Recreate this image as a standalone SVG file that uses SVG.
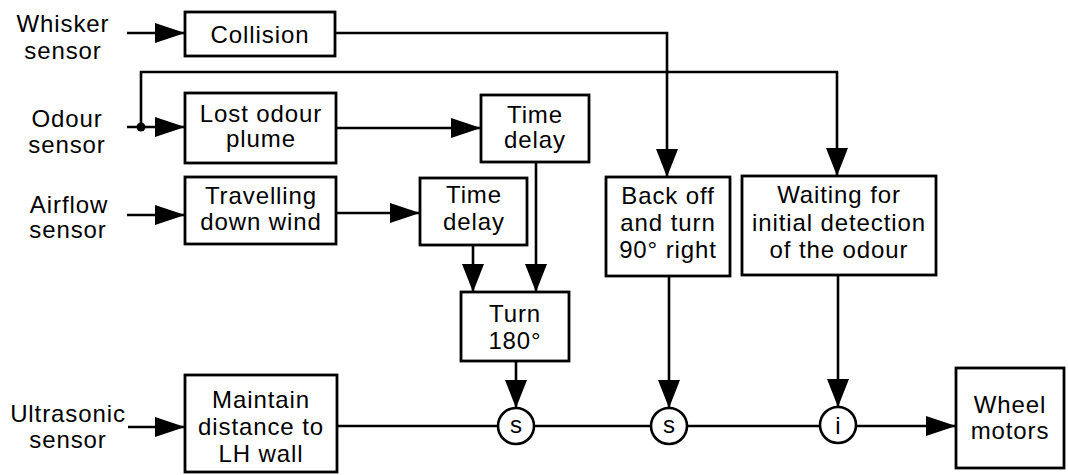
<svg xmlns="http://www.w3.org/2000/svg" width="1068" height="475" viewBox="0 0 1068 475">
<style>
  .box { fill: #fff; stroke: #000; stroke-width: 2.8; }
  .ln { fill: none; stroke: #000; stroke-width: 2.6; }
  .arr { marker-end: url(#ah); }
  .dn { marker-end: url(#ahv); }
  text { font-family: "Liberation Sans", Arial, sans-serif; font-size: 24px; letter-spacing: 0.9px; fill: #000; text-anchor: middle; }
  .sum { fill: #fff; stroke: #000; stroke-width: 2.6; }
  .st { font-size: 24px; letter-spacing: 0; }
</style>
<defs>
  <marker id="ah" viewBox="0 0 30 20" refX="30" refY="10" markerWidth="30" markerHeight="20" markerUnits="userSpaceOnUse" orient="auto">
    <path d="M0,0 L30,10 L0,20 z" fill="#000"/>
  </marker>
  <marker id="ahv" viewBox="0 0 28 22" refX="28" refY="11" markerWidth="28" markerHeight="22" markerUnits="userSpaceOnUse" orient="auto">
    <path d="M0,0 L28,11 L0,22 z" fill="#000"/>
  </marker>
</defs>

<g id="connectors">
  <path class="ln arr" d="M127,33 H185"/>
  <path class="ln arr" d="M127,127 H185"/>
  <path class="ln arr" d="M127,215 H185"/>
  <path class="ln arr" d="M128,427 H185"/>
  <path class="ln dn" d="M335,33 H667 V177"/>
  <path class="ln dn" d="M141,127 V72 H837 V176"/>
  <circle cx="141" cy="127" r="4.5" fill="#000"/>
  <path class="ln arr" d="M336,128 H481"/>
  <path class="ln arr" d="M336,213 H420"/>
  <path class="ln dn" d="M536,162 V292"/>
  <path class="ln dn" d="M473,245 V292"/>
  <path class="ln dn" d="M516,361 V408"/>
  <path class="ln dn" d="M669,276 V408"/>
  <path class="ln dn" d="M838,275 V407"/>
  <path class="ln" d="M337,426 H498"/>
  <path class="ln" d="M534,426 H651"/>
  <path class="ln" d="M687,426 H820"/>
  <path class="ln arr" d="M856,426 H956"/>
</g>

<g id="sensor-whisker"><text x="63" y="32">Whisker</text><text x="63" y="59">sensor</text></g>
<g id="sensor-odour"><text x="67" y="127">Odour</text><text x="67" y="153">sensor</text></g>
<g id="sensor-airflow"><text x="69" y="213">Airflow</text><text x="68" y="238">sensor</text></g>
<g id="sensor-ultrasonic"><text x="68" y="422">Ultrasonic</text><text x="68" y="448">sensor</text></g>

<g id="collision"><rect class="box" x="185" y="12" width="150" height="44"/><text x="260" y="43">Collision</text></g>
<g id="lost-odour"><rect class="box" x="185" y="93" width="151" height="70"/><text x="261" y="122">Lost odour</text><text x="261" y="147">plume</text></g>
<g id="travelling"><rect class="box" x="185" y="177" width="151" height="67"/><text x="261" y="204">Travelling</text><text x="261" y="230">down wind</text></g>
<g id="time-delay-1"><rect class="box" x="481" y="95" width="108" height="67"/><text x="535" y="123">Time</text><text x="535" y="148">delay</text></g>
<g id="time-delay-2"><rect class="box" x="420" y="178" width="107" height="67"/><text x="474" y="203">Time</text><text x="474" y="230">delay</text></g>
<g id="turn-180"><rect class="box" x="461" y="292" width="108" height="69"/><text x="515" y="322">Turn</text><text x="515" y="349">180°</text></g>
<g id="back-off"><rect class="box" x="606" y="177" width="124" height="99"/><text x="668" y="204">Back off</text><text x="668" y="231">and turn</text><text x="668" y="258">90° right</text></g>
<g id="waiting"><rect class="box" x="742" y="176" width="194" height="99"/><text x="839" y="203">Waiting for</text><text x="839" y="231">initial detection</text><text x="839" y="258">of the odour</text></g>
<g id="maintain"><rect class="box" x="185" y="375" width="152" height="97"/><text x="261" y="408">Maintain</text><text x="261" y="435">distance to</text><text x="261" y="462">LH wall</text></g>
<g id="wheel-motors"><rect class="box" x="956" y="368" width="108" height="100"/><text x="1010" y="413">Wheel</text><text x="1010" y="439">motors</text></g>

<g id="s1"><circle class="sum" cx="516" cy="426" r="18"/><text class="st" x="516" y="433">s</text></g>
<g id="s2"><circle class="sum" cx="669" cy="426" r="18"/><text class="st" x="669" y="433">s</text></g>
<g id="i1"><circle class="sum" cx="838" cy="425" r="18"/><text class="st" x="838" y="434">i</text></g>
</svg>
